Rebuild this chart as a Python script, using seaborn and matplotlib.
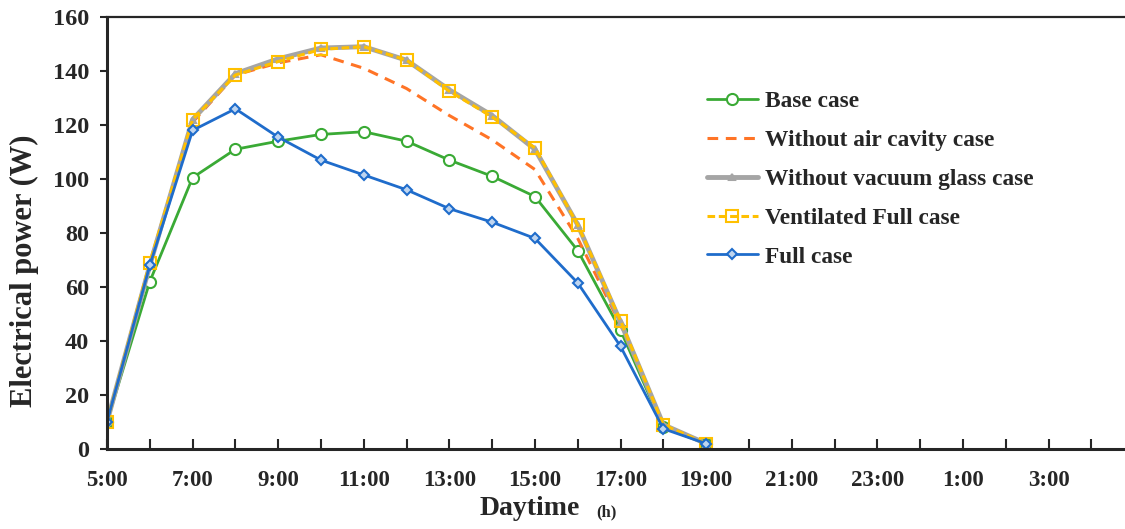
import numpy as np
import pandas as pd
import matplotlib
matplotlib.use("Agg")
import matplotlib.pyplot as plt
import seaborn as sns

# hours after 5:00 (5:00 ... 19:00)
hours = [0, 1, 2, 3, 4, 5, 6, 7, 8, 9, 10, 11, 12, 13, 14]
base_case = [10, 62, 100.5, 111, 114, 116.5, 117.5, 114, 107, 101, 93.5, 73.5, 44, 8, 2]
no_air_cavity = [10, 68, 121, 138.5, 143, 146, 141, 133.5, 123.5, 114.5, 103.5, 78, 46, 9, 2]
no_vacuum_glass = [10, 68, 122, 139, 144.5, 148.5, 149, 144, 133, 123.5, 111, 83, 47, 9, 2]
ventilated_full = [10, 69, 122, 138.5, 143.5, 148, 149, 144, 132.5, 123, 111.5, 83, 47.5, 9, 2]
full_case = [10, 68, 118, 126, 115.5, 107, 101.5, 96, 89, 84, 78, 61.5, 38, 7.5, 2]

tick_labels = ["5:00", "7:00", "9:00", "11:00", "13:00", "15:00", "17:00",
               "19:00", "21:00", "23:00", "1:00", "3:00"]

sns.set_style("ticks")
plt.rcParams['font.family'] = ['Liberation Serif', 'DejaVu Serif']
plt.rcParams['font.weight'] = 'bold'

fig = plt.figure(figsize=(11.25, 5.29), dpi=100)
ax = fig.add_axes([0.0951, 0.1512, 0.913, 0.8167])

df = pd.DataFrame({"hour": hours})

#series style: (values, label, color, linestyle, marker, size, lw, face)
series = [
    (base_case, "Base case", "#3AAA35", "-", "o", 8, 2.0, "white"),
    (no_air_cavity, "Without air cavity case", "#FF7426", (0, (3.5, 2.5)), "", 0, 2.2, "none"),
    (no_vacuum_glass, "Without vacuum glass case", "#A5A5A5", "-", "^", 5, 3.5, "#A5A5A5"),
    (ventilated_full, "Ventilated Full case", "#FFC000", (0, (2.5, 1.2)), "s", 9, 2.2, "none"),
    (full_case, "Full case", "#1F6CCB", "-", "D", 5.5, 2.0, "#BFD5F0"),
]

for vals, label, color, ls, mk, ms, lw, face in series:
    df[label] = vals
    sns.lineplot(data=df, x="hour", y=label, ax=ax, color=color, linestyle=ls,
                 marker=mk if mk else None, markersize=ms, linewidth=lw,
                 markerfacecolor=face, markeredgecolor=color, markeredgewidth=1.5,
                 label=label, legend=False)

ax.set_xlim(0, 24)
ax.set_ylim(0, 160)
ax.set_xticks(np.arange(0, 24, 2))
ax.set_xticklabels(tick_labels)
ax.set_xticks(np.arange(0, 25, 1), minor=True)
ax.set_yticks(np.arange(0, 161, 20))
ax.tick_params(axis='x', which='both', direction='in', length=7, width=1.5,
               labelsize=16.5, pad=15)
ax.tick_params(axis='y', direction='out', length=5, width=1.5, labelsize=17.5, pad=8)
for lab in ax.get_xticklabels() + ax.get_yticklabels():
    lab.set_fontweight('bold')

ax.spines['left'].set_linewidth(2.2)
ax.spines['bottom'].set_linewidth(2.2)
ax.spines['top'].set_linewidth(1.6)
ax.spines['right'].set_visible(False)
ax.set_xlabel("")
ax.set_ylabel("")

# axis titles
fig.text(0.022, 0.488, "Electrical power (W)", fontsize=22, fontweight='bold',
         rotation=90, ha='center', va='center')
fig.text(0.471, 0.026, "Daytime", fontsize=20, fontweight='bold', ha='center', va='baseline')
fig.text(0.539, 0.024, "(h)", fontsize=12, fontweight='bold', ha='center', va='baseline')

handles, labels = ax.get_legend_handles_labels()
leg = fig.legend(handles, labels, loc='upper left', bbox_to_anchor=(0.628, 0.828),
                 frameon=False, borderpad=0, borderaxespad=0, handlelength=2.2,
                 handletextpad=0.3, labelspacing=0.75, prop={'size': 16.8, 'weight': 'bold'})

plt.savefig("out.png", dpi=100)
